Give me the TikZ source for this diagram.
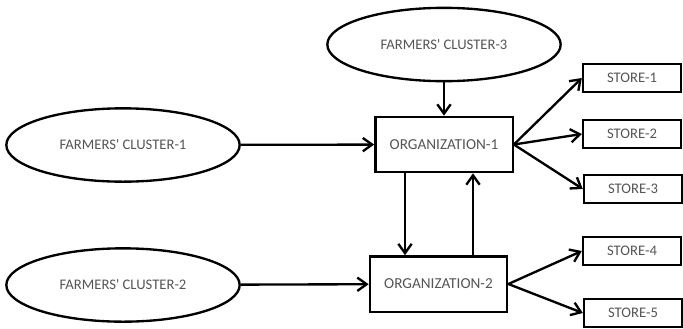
\documentclass[tikz,border=0pt]{standalone}
\usepackage{fontspec}
\setmainfont{Carlito}
\usepackage{xcolor}
\definecolor{labelgrey}{RGB}{85,85,85}
\usetikzlibrary{arrows.meta,shapes.geometric}

\begin{document}
\begin{tikzpicture}[x=0.03cm,y=-0.03cm,
  cluster/.style={draw,ellipse,line width=2pt,inner sep=0pt,minimum width=7cm,minimum height=2.2cm,font=\fontsize{12.5}{14}\selectfont,text=labelgrey},
  org/.style={draw,rectangle,line width=2pt,inner sep=0pt,minimum width=4.12cm,minimum height=1.66cm,font=\fontsize{13}{15}\selectfont,text=labelgrey},
  store/.style={draw,rectangle,line width=2pt,inner sep=0pt,minimum width=2.94cm,minimum height=0.84cm,font=\fontsize{12.5}{14}\selectfont,text=labelgrey},
  flow/.style={line width=2pt,-{Straight Barb[length=2.8mm,width=4mm,line width=2pt]}}]
  \useasboundingbox (0,0) rectangle (683,328);
  % Farmers' clusters
  \node[cluster] (c3) at (444,44.5) {FARMERS\textquotesingle\ CLUSTER-3};
  \node[cluster] (c1) at (123,145) {FARMERS\textquotesingle\ CLUSTER-1};
  \node[cluster] (c2) at (123,285) {FARMERS\textquotesingle\ CLUSTER-2};
  % Organizations
  \node[org] (org1) at (444,144.5) {ORGANIZATION-1};
  \node[org] (org2) at (438.5,284) {ORGANIZATION-2};
  % Stores
  \node[store] (s1) at (632,78) {STORE-1};
  \node[store] (s2) at (632,134) {STORE-2};
  \node[store] (s3) at (633,189) {STORE-3};
  \node[store] (s4) at (632,251) {STORE-4};
  \node[store] (s5) at (633,313) {STORE-5};
  % Supply into the organizations
  \draw[flow] (c3) -- (org1);
  \draw[flow] (c1) -- (org1);
  \draw[flow] (c2) -- (org2);
  % Exchange between the organizations
  \draw[flow] ([xshift=-1.17cm]org1.south) -- ([xshift=-1.17cm]org1.south |- org2.north);
  \draw[flow] ([xshift=0.87cm]org1.south |- org2.north) -- ([xshift=0.87cm]org1.south);
  % Distribution to the stores
  \foreach \s in {s1,s2,s3} \draw[flow] (org1.east) -- (\s.west);
  \foreach \s in {s4,s5} \draw[flow] (org2.east) -- (\s.west);
\end{tikzpicture}
\end{document}
